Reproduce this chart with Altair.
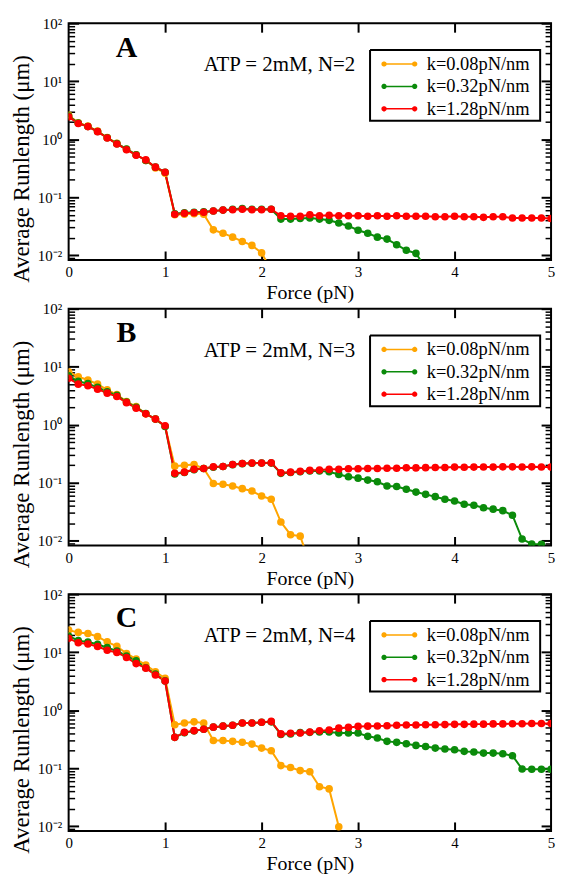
import math
import altair as alt
import pandas as pd

# ---------------- data ----------------
FORCE = [round(0.1 * i, 1) for i in range(51)]   # 0.0 ... 5.0 pN
LABELS = ["k=0.08pN/nm", "k=0.32pN/nm", "k=1.28pN/nm"]
COLORS = ["#FFA500", "#0B8B0B", "#FF0000"]

# Panel A  (N=2)
A_ORANGE = [2.6, 1.92, 1.68, 1.38, 1.07, 0.85, 0.67, 0.54, 0.43, 0.32, 0.26,
            0.050, 0.051, 0.052, 0.051, 0.0274, 0.024, 0.0205, 0.0173, 0.0148, 0.011, 0.0055]
A_GREEN = [2.5, 1.9, 1.66, 1.36, 1.06, 0.84, 0.68, 0.54, 0.43, 0.33, 0.27,
           0.052, 0.054, 0.055, 0.056, 0.058, 0.060, 0.062, 0.064, 0.062, 0.062, 0.062,
           0.042, 0.042, 0.043, 0.044, 0.042, 0.040, 0.036, 0.032, 0.027, 0.024, 0.0205,
           0.019, 0.0152, 0.0122, 0.0108, 0.006]
A_RED = [2.43, 1.87, 1.65, 1.35, 1.05, 0.83, 0.66, 0.53, 0.44, 0.33, 0.27,
         0.051, 0.053, 0.054, 0.055, 0.058, 0.060, 0.061, 0.062, 0.061, 0.061, 0.062,
         0.048, 0.047, 0.047, 0.050, 0.048, 0.049, 0.048, 0.048, 0.048, 0.047, 0.048,
         0.047, 0.048, 0.047, 0.047, 0.047, 0.046, 0.046, 0.047, 0.046, 0.046, 0.045,
         0.046, 0.046, 0.044, 0.044, 0.044, 0.044, 0.043]

# Panel B  (N=3)
B_ORANGE = [8.2, 6.7, 5.9, 5.0, 4.0, 3.3, 2.5, 2.06, 1.54, 1.25, 0.94,
            0.193, 0.2, 0.206, 0.176, 0.097, 0.094, 0.088, 0.079, 0.072, 0.059, 0.052,
            0.021, 0.0127, 0.012, 0.004]
B_GREEN = [7.0, 5.6, 5.1, 4.4, 3.7, 3.2, 2.45, 2.0, 1.56, 1.25, 0.93,
           0.142, 0.15, 0.168, 0.176, 0.185, 0.19, 0.205, 0.213, 0.217, 0.218, 0.218,
           0.145, 0.15, 0.155, 0.16, 0.16, 0.155, 0.139, 0.127, 0.12, 0.111, 0.104,
           0.088, 0.086, 0.077, 0.069, 0.063, 0.0575, 0.052, 0.0485, 0.0425, 0.041,
           0.037, 0.035, 0.033, 0.0275, 0.0107, 0.0088, 0.0087]
B_RED = [6.3, 5.0, 4.7, 4.1, 3.5, 3.06, 2.4, 1.93, 1.54, 1.25, 0.96,
         0.145, 0.152, 0.17, 0.176, 0.188, 0.19, 0.206, 0.215, 0.218, 0.218, 0.22,
         0.148, 0.152, 0.157, 0.163, 0.165, 0.17, 0.17, 0.174, 0.174, 0.176, 0.176,
         0.178, 0.178, 0.181, 0.18, 0.182, 0.183, 0.183, 0.186, 0.185, 0.186, 0.187,
         0.186, 0.188, 0.188, 0.187, 0.188, 0.187, 0.186]

# Panel C  (N=4)
C_ORANGE = [24, 21.9, 21, 18.5, 15.1, 12.6, 9.5, 7.6, 6.0, 4.6, 3.55,
            0.56, 0.6, 0.63, 0.6, 0.30, 0.30, 0.29, 0.28, 0.26, 0.222, 0.2,
            0.111, 0.103, 0.091, 0.087, 0.048, 0.044, 0.0098]
C_GREEN = [19.0, 15.8, 15.0, 13.7, 12.0, 10.5, 8.6, 7.1, 5.4, 4.2, 3.2,
           0.34, 0.41, 0.44, 0.47, 0.51, 0.53, 0.55, 0.6, 0.6, 0.62, 0.63,
           0.38, 0.39, 0.41, 0.415, 0.42, 0.42, 0.405, 0.405, 0.405, 0.354, 0.331,
           0.29, 0.279, 0.264, 0.247, 0.237, 0.222, 0.214, 0.208, 0.195, 0.19,
           0.182, 0.182, 0.177, 0.164, 0.097, 0.096, 0.096, 0.096]
C_RED = [17.3, 14.5, 13.8, 12.5, 10.8, 9.9, 8.1, 6.35, 5.3, 4.05, 3.18,
         0.34, 0.415, 0.444, 0.47, 0.51, 0.53, 0.55, 0.6, 0.6, 0.62, 0.64,
         0.39, 0.40, 0.405, 0.42, 0.44, 0.455, 0.49, 0.505, 0.525, 0.53, 0.535,
         0.54, 0.55, 0.555, 0.555, 0.56, 0.56, 0.565, 0.57, 0.57, 0.575, 0.575,
         0.58, 0.58, 0.585, 0.585, 0.59, 0.59, 0.59]

PANEL_LETTERS = ["A", "B", "C"]
PANEL_TEXT = ["ATP = 2mM, N=2", "ATP = 2mM, N=3", "ATP = 2mM, N=4"]
PANEL_SERIES = [[A_ORANGE, A_GREEN, A_RED],
                [B_ORANGE, B_GREEN, B_RED],
                [C_ORANGE, C_GREEN, C_RED]]

X_TICKS = [0, 1, 2, 3, 4, 5]
Y_DECADES = [0.01, 0.1, 1, 10, 100]
Y_MINOR = [m * d for d in [0.001, 0.01, 0.1, 1, 10] for m in range(2, 10)
           if 0.0083 < m * d < 100]

# annotation anchors in data units: panel letter, condition text, legend frame
LETTER_POS = (0.6, 38.0)
TEXT_POS = (1.40, 19.0)
FRAME_X = (3.124, 4.887)
FRAME_Y = (34.4, 2.09)
FRAME_KEY = "legend frame"

# ---------------- style ----------------
FONT = "Liberation Serif"
W, H = 485, 238
YMIN, YMAX = 0.0083, 100

xs = alt.Scale(domain=[0, 5], nice=False, zero=False)
ys = alt.Scale(type="log", domain=[YMIN, YMAX], nice=False)
fs = alt.Scale(domain=LABELS, range=COLORS)
# line colours: same mapping plus the black legend frame (a different domain,
# so this legend-less scale is not merged with the point layer's legend)
ls = alt.Scale(domain=LABELS[::-1] + [FRAME_KEY], range=COLORS[::-1] + ["black"])


def circle_poly(cx, r, n=14):
    pts = []
    for i in range(n):
        a = 2 * math.pi * i / n
        pts.append(f"{cx + r * math.cos(a):.4f},{r * math.sin(a):.4f}")
    return "M" + "L".join(pts) + "Z"


SYMBOL_PATH = "M-0.88,0L0.88,0" + circle_poly(-0.88, 0.11) + circle_poly(0.88, 0.11)

LABEL_EXPR = ("['10\u207b\u00b2','10\u207b\u00b9','10\u2070','10\u00b9','10\u00b2']"
              "[round(log(datum.value)/LN10)+2]")


def series_frame(lists):
    rows = []
    for lab, vals in zip(LABELS, lists):
        for i, (f, v) in enumerate(zip(FORCE, vals)):
            rows.append({"force": f, "runlength": v, "k": lab, "seq": i})
    return pd.DataFrame(rows)


def line_frame(lists):
    df = series_frame(lists)
    (x1, x2), (yt, yb) = FRAME_X, FRAME_Y
    box = pd.DataFrame({
        "force": [x1, x2, x2, x1, x1],
        "runlength": [yt, yt, yb, yb, yt],
        "k": [FRAME_KEY] * 5,
        "seq": [0, 1, 2, 3, 4],
    })
    return pd.concat([df, box], ignore_index=True)


def make_panel(letter, text, lists):
    df_pts = series_frame(lists)
    df_lines = line_frame(lists)

    x_main = alt.Axis(values=X_TICKS, format="d", title="Force (pN)", ticks=False,
                      labelFontSize=15, labelPadding=5, labelFlush=False,
                      titleFontSize=20, titlePadding=3)
    y_main = alt.Axis(values=Y_DECADES, labelExpr=LABEL_EXPR,
                      title="Average Runlength (\u03bcm)", ticks=False,
                      labelFontSize=15, labelPadding=7, titleFontSize=23,
                      titleX=-35, titleY=H / 2 + 27)
    x_ticks_bottom = alt.Axis(orient="top", offset=-H, values=X_TICKS[1:-1], labels=False,
                              tickSize=9, tickWidth=2, title=None)
    x_ticks_top = alt.Axis(orient="bottom", offset=-H, values=X_TICKS[1:-1], labels=False,
                           tickSize=9, tickWidth=2, title=None)
    y_major_left = alt.Axis(orient="right", offset=-W, values=Y_DECADES, labels=False,
                            tickSize=10, tickWidth=2, title=None)
    y_minor_left = alt.Axis(orient="right", offset=-W, values=Y_MINOR, labels=False,
                            tickSize=6, tickWidth=1.5, title=None)
    y_major_right = alt.Axis(orient="left", offset=-W, values=Y_DECADES, labels=False,
                             tickSize=10, tickWidth=2, title=None)
    y_minor_right = alt.Axis(orient="left", offset=-W, values=Y_MINOR, labels=False,
                             tickSize=6, tickWidth=1.5, title=None)

    legend = alt.Legend(title=None, orient="none", legendX=314, legendY=32,
                        symbolType=SYMBOL_PATH, symbolSize=1225, clipHeight=18,
                        rowPadding=3.5, labelFont=FONT, labelFontSize=18.5,
                        labelColor="black", labelOffset=9, padding=0)

    line = alt.Chart(df_lines).mark_line(strokeWidth=2, clip=True).encode(
        x=alt.X("force:Q", scale=xs, axis=x_main),
        y=alt.Y("runlength:Q", scale=ys, axis=y_main),
        color=alt.Color("k:N", scale=ls, legend=None),
        order="seq:Q",
    )
    pts = alt.Chart(df_pts).mark_point(size=32, strokeWidth=2, opacity=1,
                                       clip=True).encode(
        x=alt.X("force:Q", scale=xs, axis=x_ticks_bottom),
        y=alt.Y("runlength:Q", scale=ys, axis=y_major_left),
        fill=alt.Fill("k:N", scale=fs, legend=legend),
        stroke=alt.Stroke("k:N", scale=fs, legend=legend),
    )

    ann_letter = pd.DataFrame({"panel": [letter], "lx": [LETTER_POS[0]],
                               "ly": [LETTER_POS[1]], "t": [letter]})
    ann_text = pd.DataFrame({"panel": [letter], "tx": [TEXT_POS[0]],
                             "ty": [TEXT_POS[1]], "t": [text]})

    letter_mark = alt.Chart(ann_letter).mark_text(
        font=FONT, fontSize=30, fontWeight="bold", align="center",
        baseline="middle", color="black").encode(
        x=alt.X("lx:Q", scale=xs, axis=x_ticks_top),
        y=alt.Y("ly:Q", scale=ys, axis=y_minor_left),
        text="t:N",
    )
    text_mark = alt.Chart(ann_text).mark_text(
        font=FONT, fontSize=21, align="left", baseline="middle",
        color="black").encode(
        x=alt.X("tx:Q", scale=xs, axis=None),
        y=alt.Y("ty:Q", scale=ys, axis=y_major_right),
        text="t:N",
    )
    extra = alt.Chart(ann_text).mark_point(opacity=0).encode(
        x=alt.X("tx:Q", scale=xs, axis=None),
        y=alt.Y("ty:Q", scale=ys, axis=y_minor_right),
    )

    return alt.layer(line, pts, letter_mark, text_mark, extra).resolve_axis(
        x="independent", y="independent"
    ).properties(width=W, height=H)


panels = [make_panel(l, t, s) for l, t, s in zip(PANEL_LETTERS, PANEL_TEXT, PANEL_SERIES)]

chart = alt.vconcat(*panels, spacing=49, bounds="flush").resolve_scale(
    color="independent", fill="independent", stroke="independent"
).properties(
    padding={"left": 9, "top": 13, "right": 5, "bottom": 0}
).configure_view(
    stroke="black", strokeWidth=2
).configure_axis(
    grid=False, domain=False, labelFont=FONT, titleFont=FONT,
    labelColor="black", titleColor="black", tickColor="black",
    titleFontWeight="normal"
)

chart.save("out.html", embed_options={"renderer": "svg", "actions": False})
